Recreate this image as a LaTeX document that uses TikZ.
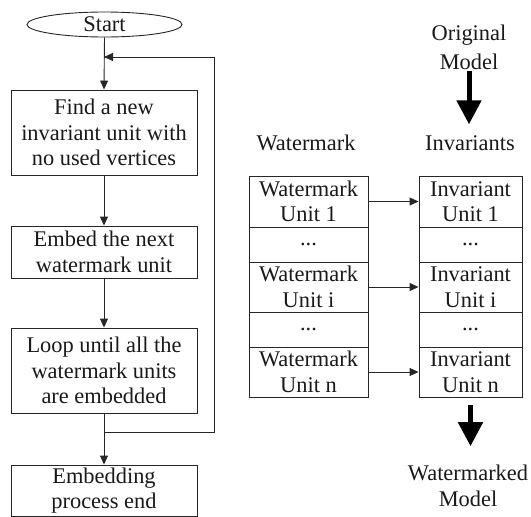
\documentclass[tikz,border=0pt]{standalone}
\usepackage{fontspec}
\setmainfont{Liberation Serif}
\usetikzlibrary{arrows.meta,shapes.geometric}
\begin{document}
\begin{tikzpicture}[x=1pt,y=-1pt,
 every node/.style={font=\fontsize{22.4}{25.5}\selectfont, align=center, inner sep=0pt, text=black!90},
 box/.style={draw=black!85, line width=0.9pt, minimum width=186pt},
 lcell/.style={draw=black!85, line width=0.9pt, minimum width=119pt},
 rcell/.style={draw=black!85, line width=0.9pt, minimum width=103pt},
 flow/.style={draw=black!85, line width=0.9pt, -{Triangle[length=9pt,width=8pt]}},
 big/.style={draw=black, line width=5pt, -{Triangle[length=24pt,width=24pt]}}]
\useasboundingbox (0,0) rectangle (531,517);
% left flowchart
\node[ellipse, draw=black!85, line width=0.9pt, minimum width=155pt, minimum height=25pt] (start) at (104.5,24.5) {Start};
\node[box, minimum height=85pt] (b1) at (104,132.5) {Find a new\\invariant unit with\\no used vertices};
\node[box, minimum height=52pt] (b2) at (104,252) {Embed the next\\watermark unit};
\node[box, minimum height=85pt] (b3) at (104,370.5) {Loop until all the\\watermark units\\are embedded};
\node[box, minimum height=51pt] (b4) at (104,490.5) {Embedding\\process end};
\coordinate (j) at (104,432);
\coordinate (tr) at (214,57);
\coordinate (jt) at (104,57);
\draw[flow] (start.south) -- (b1.north);
\draw[flow] (b1.south) -- (b2.north);
\draw[flow] (b2.south) -- (b3.north);
\draw[flow] (b3.south) -- (b4.north);
\draw[flow] (j) -| (tr) -- (jt);
% right side
\node[font=\fontsize{22.4}{29}\selectfont] (orig) at (469,47) {Original\\Model};
\node (wlbl) at (306,143) {Watermark};
\node (invl) at (470,143) {Invariants};
\node[lcell, minimum height=51pt] (w1) at (308.5,201.5) {Watermark\\Unit 1};
\node[lcell, minimum height=35pt] (wd1) at (308.5,244.5) {...};
\node[lcell, minimum height=50pt] (wi) at (308.5,287) {Watermark\\Unit i};
\node[lcell, minimum height=35pt] (wd2) at (308.5,329.5) {...};
\node[lcell, minimum height=50pt] (wn) at (308.5,372) {Watermark\\Unit n};
\node[rcell, minimum height=51pt] (i1) at (470.5,201.5) {Invariant\\Unit 1};
\node[rcell, minimum height=35pt] (id1) at (470.5,244.5) {...};
\node[rcell, minimum height=50pt] (ii) at (470.5,287) {Invariant\\Unit i};
\node[rcell, minimum height=35pt] (id2) at (470.5,329.5) {...};
\node[rcell, minimum height=50pt] (in) at (470.5,372) {Invariant\\Unit n};
\node (wmm) at (468,486) {Watermarked\\Model};
\draw[flow] (w1.east) -- (i1.west);
\draw[flow] (wi.east) -- (ii.west);
\draw[flow] (wn.east) -- (in.west);
\draw[big, shorten <=1pt, shorten >=11pt] (orig.south) -- (orig.south |- invl.north);
\draw[big, shorten <=8pt, shorten >=19pt] (in.south) -- (in.south |- wmm.north);
\end{tikzpicture}
\end{document}
